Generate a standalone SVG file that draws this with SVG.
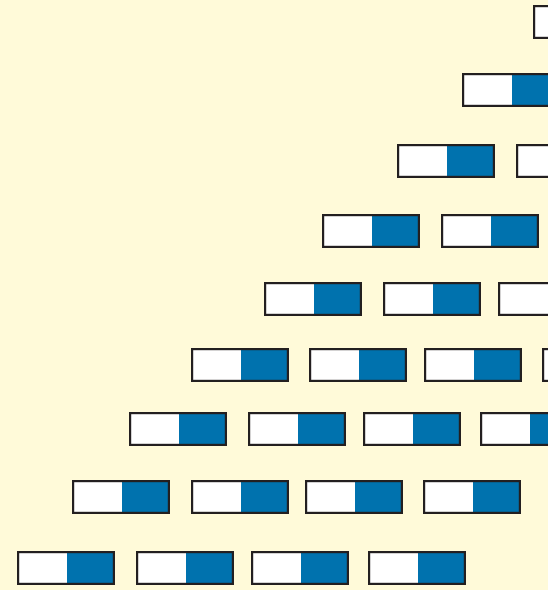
<svg xmlns="http://www.w3.org/2000/svg" xmlns:xlink="http://www.w3.org/1999/xlink" width="548" height="590" viewBox="0 0 548 590">
<style>
.w{fill:#ffffff}
.b{fill:#0072ae}
.o{fill:none;stroke:#231f20;stroke-width:2.2}
</style>
<defs>
<g id="cell">
<rect class="w" x="0" y="0" width="50" height="34"/>
<rect class="b" x="50" y="0" width="48" height="34"/>
<rect class="o" x="1.1" y="1.1" width="95.8" height="31.8"/>
</g>
</defs>
<rect width="548" height="590" fill="#fffad9"/>
<g id="r0b1"><use xlink:href="#cell" x="533" y="5"/></g>
<g id="r1b1"><use xlink:href="#cell" x="462" y="73"/></g>
<g id="r2b1"><use xlink:href="#cell" x="397" y="144"/></g>
<g id="r2b2"><use xlink:href="#cell" x="516" y="144"/></g>
<g id="r3b1"><use xlink:href="#cell" x="322" y="214"/></g>
<g id="r3b2"><use xlink:href="#cell" x="441" y="214"/></g>
<g id="r4b1"><use xlink:href="#cell" x="264" y="282"/></g>
<g id="r4b2"><use xlink:href="#cell" x="383" y="282"/></g>
<g id="r4b3"><use xlink:href="#cell" x="498" y="282"/></g>
<g id="r5b1"><use xlink:href="#cell" x="191" y="348"/></g>
<g id="r5b2"><use xlink:href="#cell" x="309" y="348"/></g>
<g id="r5b3"><use xlink:href="#cell" x="424" y="348"/></g>
<g id="r5b4"><use xlink:href="#cell" x="542" y="348"/></g>
<g id="r6b1"><use xlink:href="#cell" x="129" y="412"/></g>
<g id="r6b2"><use xlink:href="#cell" x="248" y="412"/></g>
<g id="r6b3"><use xlink:href="#cell" x="363" y="412"/></g>
<g id="r6b4"><use xlink:href="#cell" x="480" y="412"/></g>
<g id="r7b1"><use xlink:href="#cell" x="72" y="480"/></g>
<g id="r7b2"><use xlink:href="#cell" x="191" y="480"/></g>
<g id="r7b3"><use xlink:href="#cell" x="305" y="480"/></g>
<g id="r7b4"><use xlink:href="#cell" x="423" y="480"/></g>
<g id="r8b1"><use xlink:href="#cell" x="17" y="551"/></g>
<g id="r8b2"><use xlink:href="#cell" x="136" y="551"/></g>
<g id="r8b3"><use xlink:href="#cell" x="251" y="551"/></g>
<g id="r8b4"><use xlink:href="#cell" x="368" y="551"/></g>
<g id="connectors"></g>
</svg>
